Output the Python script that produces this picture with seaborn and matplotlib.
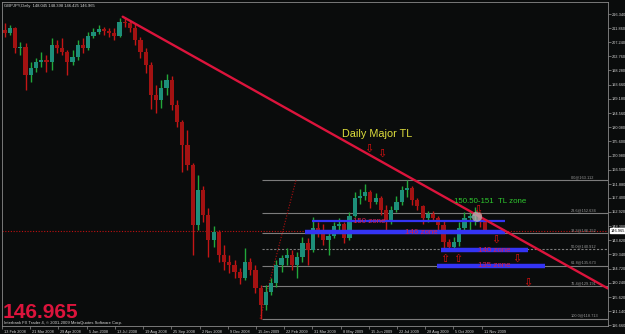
import numpy as np
import matplotlib
matplotlib.use("Agg")
import matplotlib.pyplot as plt
import matplotlib.transforms as mtransforms
import seaborn as sns

# ---------------- data (GBPJPY daily chart, read per week) ----------------
opens = [211.23, 210.27, 211.88, 205.47, 205.79, 196.81, 199.06, 200.98, 201.62, 200.98,
         206.43, 205.47, 204.18, 200.98, 202.58, 206.43, 205.47, 209.31, 210.59, 211.56,
         210.91, 210.27, 209.31, 213.80, 213.48, 211.88, 208.03, 204.18, 200.02, 190.40,
         188.80, 192.64, 195.21, 187.20, 181.75, 174.38, 167.97, 148.73, 159.95, 151.94,
         143.93, 146.49, 139.12, 136.88, 135.91, 133.67, 131.75, 136.88, 134.31, 128.54,
         123.09, 127.26, 130.14, 135.91, 138.16, 139.12, 135.91, 138.48, 142.97, 140.72,
         147.77, 147.13, 143.93, 145.21, 148.41, 149.06, 144.57, 151.62, 157.39, 158.03,
         159.31, 156.11, 157.39, 153.54, 149.70, 153.54, 156.11, 159.95, 160.59, 156.75,
         154.82, 150.98, 152.26, 150.98, 148.73, 143.29, 141.68, 143.29, 147.77, 150.98,
         151.62, 152.26, 149.70]
highs = [213.48, 212.84, 212.20, 207.39, 207.07, 200.98, 202.26, 204.18, 203.22, 208.67,
         208.03, 208.67, 204.82, 204.82, 208.03, 208.67, 210.59, 211.88, 212.84, 212.20,
         211.88, 211.88, 215.08, 215.50, 214.44, 213.16, 208.99, 205.47, 200.98, 193.61,
         195.21, 197.13, 196.49, 188.80, 182.39, 179.18, 168.61, 164.76, 161.23, 154.18,
         148.41, 147.13, 142.32, 139.12, 137.52, 134.95, 141.36, 138.16, 135.91, 129.50,
         129.50, 131.75, 137.52, 139.12, 141.36, 140.72, 140.08, 144.89, 144.57, 151.30,
         149.70, 149.06, 147.13, 149.70, 150.98, 149.70, 152.90, 159.31, 160.27, 161.88,
         159.95, 158.99, 158.03, 155.14, 154.82, 158.03, 161.23, 163.11, 161.23, 157.39,
         155.14, 153.22, 153.22, 151.62, 150.34, 144.25, 144.89, 149.70, 152.90, 153.22,
         154.50, 152.90, 150.34]
lows = [208.99, 209.63, 203.86, 203.22, 192.00, 194.57, 197.77, 199.38, 197.77, 198.41,
        203.86, 203.22, 196.81, 200.02, 201.62, 203.86, 204.82, 208.67, 209.95, 209.63,
        208.99, 208.03, 208.99, 212.20, 210.59, 206.43, 202.26, 197.45, 185.91, 184.63,
        186.23, 190.40, 185.59, 180.14, 165.72, 166.36, 139.12, 147.13, 149.70, 138.48,
        141.68, 136.88, 134.31, 133.35, 131.75, 129.82, 131.10, 132.71, 126.94, 118.713,
        121.49, 126.30, 128.86, 133.67, 135.91, 134.31, 131.75, 136.88, 135.91, 140.08,
        144.89, 142.32, 139.12, 144.57, 147.13, 142.97, 143.93, 151.30, 155.47, 156.75,
        154.18, 155.47, 151.94, 146.49, 149.06, 152.90, 155.14, 157.71, 155.14, 153.54,
        149.06, 149.70, 150.02, 147.13, 141.36, 140.40, 141.04, 142.00, 147.13, 146.49,
        148.73, 148.09, 146.425]
closes = [210.27, 211.88, 205.47, 205.79, 196.81, 199.06, 200.98, 201.62, 200.98, 206.43,
          205.47, 204.18, 200.98, 202.58, 206.43, 205.47, 209.31, 210.59, 211.56, 210.91,
          210.27, 209.31, 213.80, 213.48, 211.88, 208.03, 204.18, 200.02, 190.40, 188.80,
          192.64, 195.21, 187.20, 181.75, 174.38, 167.97, 148.73, 159.95, 151.94, 143.93,
          146.49, 139.12, 136.88, 135.91, 133.67, 131.75, 136.88, 134.31, 128.54, 123.09,
          127.26, 130.14, 135.91, 138.16, 139.12, 135.91, 138.48, 142.97, 140.72, 147.77,
          147.13, 143.93, 145.21, 148.41, 149.06, 144.57, 151.62, 157.39, 158.03, 159.31,
          156.11, 157.39, 153.54, 149.70, 153.54, 156.11, 159.95, 160.59, 156.75, 154.82,
          150.98, 152.26, 150.98, 148.73, 143.29, 141.68, 143.29, 147.77, 150.98, 151.62,
          152.26, 149.70, 146.965]

date_labels = ["13 Feb 2008", "21 Mar 2008", "29 Apr 2008", "5 Jun 2008", "13 Jul 2008",
               "19 Aug 2008", "25 Sep 2008", "2 Nov 2008", "9 Dec 2008", "15 Jan 2009",
               "22 Feb 2009", "31 Mar 2009", "8 May 2009", "15 Jun 2009", "22 Jul 2009",
               "28 Aug 2009", "5 Oct 2009", "11 Nov 2009"]
price_ticks = [216.340, 211.860, 207.240, 202.760, 198.280, 193.660, 189.180, 184.560,
               180.080, 175.600, 170.980, 166.500, 161.880, 157.400, 152.920, 148.300,
               143.820, 139.340, 134.720, 130.240, 125.620, 121.140, 116.660]

current_price = 146.965
header = "GBPJPY,Daily  148.045 148.398 146.425 146.965"

fib_ratios = [0.0, 23.6, 38.2, 50.0, 61.8, 76.4, 100.0]
fib_high = 163.112
fib_low = 118.713
fib_bars = [247.0, 281.3]          # anchors of the fib tool (low bar, high bar)

tl_bars = [115.5, 579.9]           # Daily Major trend line anchors
tl_prices = [215.50, 128.39]

zone_labels = ["150 zone", "146 zone", "140 zone", "135 zone"]
zone_prices = [150.02, 146.40, 140.72, 135.60]
zone_start = [296.7, 290.0, 420.0, 416.0]
zone_end = [481.3, 481.0, 503.0, 519.6]
zone_label_bars = [351.0, 401.0, 471.0, 471.0]

down_arrow_bars = [351.2, 363.6, 455.5, 472.7, 492.8, 503.3]
down_arrow_prices = [173.1, 171.5, 153.7, 143.9, 137.8, 130.3]
up_arrow_bars = [423.9, 436.4]
up_arrow_prices = [137.8, 137.8]

touch_bar, touch_price = 454.5, 151.40
tl_text_bar, tl_text_price = 359.3, 177.9
zone_text_bar, zone_text_price = 467.0, 156.43

# ---------------- style ----------------
BG = "#0a0c0c"
CRIMSON = "#dc143c"
sns.set_theme(style="dark", rc={"axes.facecolor": BG, "figure.facecolor": BG,
                                "axes.grid": False})
plt.rcParams["font.family"] = ["Liberation Sans", "DejaVu Sans"]

fig = plt.figure(figsize=(6.25, 3.34), dpi=100)
fig.patch.set_facecolor(BG)
ax = fig.add_axes([2 / 625, 8 / 334, 606 / 625, 324 / 334])
ax.set_facecolor(BG)

o = np.array(opens); h = np.array(highs); l = np.array(lows); c = np.array(closes)
xb = np.arange(len(c)) * 5 + 2.5
up = c >= o
wick_col = np.where(up, "#22a83a", "#c41616")
body_col = np.where(up, "#1d8f7a", "#a31212")

# fib levels
fib_prices = [fib_high - r / 100 * (fib_high - fib_low) for r in fib_ratios]
for r, p in zip(fib_ratios, fib_prices):
    ls = (0, (2, 1.5)) if r == 50.0 else "-"
    ax.hlines(p, fib_bars[0] + 2, 582, colors="#7c7c7c", linewidth=0.8, linestyles=ls, zorder=1)
    ax.text(544.5, p + 0.3, f"{r:.1f}@{p:.3f}", fontsize=2.8, color="#9a9a9a",
            ha="left", va="bottom", zorder=2)
sns.lineplot(x=fib_bars, y=[fib_low, fib_high], ax=ax, color="#b01010",
             linestyle=(0, (1, 1.5)), linewidth=0.8, zorder=1)

# current price dotted line
ax.axhline(current_price, color="#c01010", linestyle=(0, (1, 1.5)), linewidth=0.8, zorder=1)

# candles
ax.vlines(xb, l, h, colors=wick_col, linewidth=1.0, zorder=3)
body_h = np.maximum(np.abs(c - o), 0.35)
ax.bar(xb, body_h, bottom=np.minimum(o, c), width=4.0, color=body_col,
       linewidth=0, zorder=4)

# zones
zone_lw = [1.6, 3.2, 3.2, 3.2]
for p, s, e, lw in zip(zone_prices, zone_start, zone_end, zone_lw):
    ax.hlines(p, s, e, colors="#3434f4", linewidth=lw, zorder=5)
for lab, xbar, p in zip(zone_labels, zone_label_bars, zone_prices):
    ax.text(xbar, p, lab, fontsize=5.7, color="#d8204c", ha="center", va="center", zorder=6)

# trend line
sns.lineplot(x=tl_bars, y=tl_prices, ax=ax, color=CRIMSON, linewidth=1.7, zorder=7)

# touch circle
sns.scatterplot(x=[touch_bar], y=[touch_price], ax=ax, s=55, color="#b8b8b8",
                alpha=0.75, edgecolor="none", zorder=8)

# arrows
for xa, ya in zip(down_arrow_bars, down_arrow_prices):
    ax.text(xa, ya, "\u21e9", fontsize=8, color="#e01010", ha="center", va="center",
            family=["DejaVu Sans"], zorder=9)
for xa, ya in zip(up_arrow_bars, up_arrow_prices):
    ax.text(xa, ya, "\u21e7", fontsize=8, color="#e01010", ha="center", va="center",
            family=["DejaVu Sans"], zorder=9)

ax.text(tl_text_bar, tl_text_price, "Daily Major TL", fontsize=7.8, color="#dede3c",
        ha="center", va="center", zorder=9)
ax.text(zone_text_bar, zone_text_price, "150.50-151  TL zone", fontsize=5.7,
        color="#2ec82e", ha="center", va="center", zorder=9)

# axes
ax.set_xlim(0, 579.9)
ax.set_ylim(116.37, 220.21)
ax.yaxis.tick_right()
ax.set_yticks(price_ticks)
ax.set_yticklabels([f"{t:.3f}" for t in price_ticks])
ax.set_xticks([27 * i for i in range(len(date_labels))])
ax.set_xticklabels(date_labels, ha="left")
ax.tick_params(axis="y", which="both", direction="out", length=2, width=0.5,
               color="#909090", labelsize=2.8, labelcolor="#d6d6d6", pad=0.8,
               right=True, left=False)
ax.tick_params(axis="x", which="both", direction="out", length=2, width=0.5,
               color="#909090", labelsize=2.8, labelcolor="#d6d6d6", pad=0.8, bottom=True)
offset = mtransforms.ScaledTranslation(2 / 100, 0, fig.dpi_scale_trans)
for lbl in ax.get_xticklabels():
    lbl.set_transform(lbl.get_transform() + offset)
for sp in ax.spines.values():
    sp.set_color("#8a8a8a")
    sp.set_linewidth(0.6)
ax.set_xlabel("")
ax.set_ylabel("")

# current price box on the price axis
trans = mtransforms.blended_transform_factory(ax.transAxes, ax.transData)
ax.text(1.004, current_price, f"{current_price:.3f}", transform=trans, fontsize=2.8,
        color="black", ha="left", va="center", clip_on=False, zorder=10,
        bbox=dict(facecolor="white", edgecolor="white", pad=0.6))

# texts
fig.text(4 / 625, 1 - 5.5 / 334, header, fontsize=3, color="#d6d6d6", ha="left", va="center")
fig.text(2.5 / 625, 1 - 312.5 / 334, f"{current_price:.3f}", fontsize=15, fontweight="bold",
         color=CRIMSON, ha="left", va="center")
fig.text(4 / 625, 1 - 323 / 334,
         "Interbank FX Trader 4, \u00a9 2001-2009 MetaQuotes Software Corp.",
         fontsize=3, color="#d6d6d6", ha="left", va="center")

fig.savefig("out.png", dpi=100, facecolor=BG)
